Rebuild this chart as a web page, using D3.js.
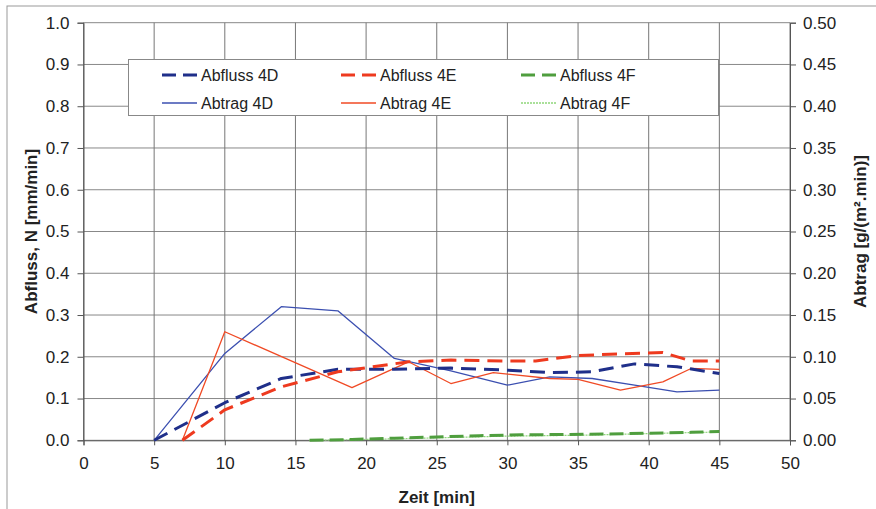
<!DOCTYPE html>
<html><head><meta charset="utf-8">
<script src="https://cdn.jsdelivr.net/npm/d3@7"></script>
<style>body{margin:0;background:#fff}svg{display:block}text{font-family:"Liberation Sans",Arial,sans-serif;fill:#222}</style>
</head><body><svg id="c" width="876" height="509"></svg>
<script>
// ---- data ----
const xTicks = [0,5,10,15,20,25,30,35,40,45,50];
const yLeftTicks = [0,0.1,0.2,0.3,0.4,0.5,0.6,0.7,0.8,0.9,1.0];
const yRightTicks = [0,0.05,0.1,0.15,0.2,0.25,0.3,0.35,0.4,0.45,0.5];

const abfluss4D_t = [5,10,14,18,22,26,30,33,36,39,42,45];
const abfluss4D_v = [0,0.09,0.148,0.17,0.17,0.173,0.168,0.162,0.164,0.183,0.176,0.16];
const abtrag4D_t = [5,10,14,18,22,26,30,33,36,39,42,45];
const abtrag4D_v = [0,0.104,0.16,0.155,0.098,0.083,0.066,0.076,0.074,0.066,0.058,0.06];

const abfluss4E_t = [7,10,14,18,23,26,30,32,35,38,41,43,45];
const abfluss4E_v = [0,0.073,0.128,0.164,0.188,0.192,0.19,0.19,0.203,0.207,0.21,0.19,0.19];
const abtrag4E_t = [7,10,19,23,26,29,33,35,38,41,43,45];
const abtrag4E_v = [0,0.13,0.063,0.094,0.068,0.081,0.074,0.073,0.06,0.07,0.086,0.085];

const abfluss4F_t = [16,19,22,25,28,31,34,37,40,43,45];
const abfluss4F_v = [0,0.002,0.005,0.008,0.011,0.013,0.014,0.015,0.017,0.019,0.021];
const abtrag4F_t = [16,20,25,30,35,40,45];
const abtrag4F_v = [0,0.001,0.003,0.005,0.006,0.008,0.01];

// ---- layout ----
const svg = d3.select("#c");
const L = 83.5, R = 790, T = 22.7, B = 440.3;
const x = d3.scaleLinear().domain([0,50]).range([L,R]);
const yL = d3.scaleLinear().domain([0,1]).range([B,T]);
const yR = d3.scaleLinear().domain([0,0.5]).range([B,T]);

svg.append("rect").attr("width",876).attr("height",509).attr("fill","#fff");
svg.append("rect").attr("x",7).attr("y",6).attr("width",950).attr("height",650)
  .attr("fill","none").attr("stroke","#999").attr("stroke-width",1);

// grid
const g = svg.append("g");
g.selectAll(".hg").data(yLeftTicks).join("line")
  .attr("x1",L).attr("x2",R).attr("y1",d=>yL(d)).attr("y2",d=>yL(d))
  .attr("stroke","#888").attr("stroke-width",1);
g.selectAll(".vg").data(xTicks).join("line")
  .attr("y1",T).attr("y2",B).attr("x1",d=>x(d)).attr("x2",d=>x(d))
  .attr("stroke","#777").attr("stroke-width",1);

// axes
const fmt1 = d3.format(".1f"), fmt2 = d3.format(".2f");
const axL = d3.axisLeft(yL).tickValues(yLeftTicks).tickFormat(fmt1).tickSize(6).tickPadding(8);
const axR = d3.axisRight(yR).tickValues(yRightTicks).tickFormat(fmt2).tickSize(6).tickPadding(7);
const axB = d3.axisBottom(x).tickValues(xTicks).tickFormat(d3.format("d")).tickSize(5).tickPadding(12);
function style(sel){
  sel.select(".domain").attr("stroke","#555");
  sel.selectAll(".tick line").attr("stroke","#555");
  sel.selectAll("text").attr("font-size",17).attr("fill","#222")
    .attr("font-family","'Liberation Sans',Arial,sans-serif");
}
svg.append("g").attr("transform",`translate(${L},0)`).call(axL).call(style);
svg.append("g").attr("transform",`translate(${R},0)`).call(axR).call(style);
svg.append("g").attr("transform",`translate(0,${B})`).call(axB).call(style);

// titles
svg.append("text").attr("x",(L+R)/2).attr("y",503).attr("text-anchor","middle")
  .attr("font-size",17).attr("font-weight","bold").text("Zeit [min]");
svg.append("text").attr("transform",`translate(37,${(T+B)/2}) rotate(-90)`).attr("text-anchor","middle")
  .attr("font-size",17).attr("font-weight","bold").text("Abfluss, N [mm/min]");
svg.append("text").attr("transform",`translate(866,${(T+B)/2}) rotate(-90)`).attr("text-anchor","middle")
  .attr("font-size",17).attr("font-weight","bold").text("Abtrag [g/(m².min)]");

// series
const series = [
  {t:abtrag4F_t, v:abtrag4F_v, y:yR, color:"#8fd67a", w:1.2, dash:"2,1"},
  {t:abfluss4F_t, v:abfluss4F_v, y:yL, color:"#4f9e3e", w:3, dash:"14,6"},
  {t:abtrag4D_t, v:abtrag4D_v, y:yR, color:"#3b4fb0", w:1.3, dash:null},
  {t:abtrag4E_t, v:abtrag4E_v, y:yR, color:"#f04a25", w:1.3, dash:null},
  {t:abfluss4D_t, v:abfluss4D_v, y:yL, color:"#1f2f8a", w:3, dash:"15,8"},
  {t:abfluss4E_t, v:abfluss4E_v, y:yL, color:"#ee3a1f", w:3, dash:"15,8"}
];
series.forEach(s=>{
  const pts = s.t.map((t,i)=>[t,s.v[i]]);
  const line = d3.line().x(d=>x(d[0])).y(d=>s.y(d[1]));
  svg.append("path").attr("d",line(pts)).attr("fill","none")
    .attr("stroke",s.color).attr("stroke-width",s.w)
    .attr("stroke-dasharray",s.dash).attr("stroke-linejoin","round");
});

// legend
const legendItems = [
  {label:"Abfluss 4D", color:"#1f2f8a", w:3, dash:"14,7", col:0,row:0},
  {label:"Abfluss 4E", color:"#ee3a1f", w:3, dash:"14,7", col:1,row:0},
  {label:"Abfluss 4F", color:"#4f9e3e", w:3, dash:"14,7", col:2,row:0},
  {label:"Abtrag 4D", color:"#3b4fb0", w:1.3, dash:null, col:0,row:1},
  {label:"Abtrag 4E", color:"#f04a25", w:1.3, dash:null, col:1,row:1},
  {label:"Abtrag 4F", color:"#8fd67a", w:1.3, dash:"2,1", col:2,row:1}
];
const lg = svg.append("g");
lg.append("rect").attr("x",128.5).attr("y",59.5).attr("width",590).attr("height",56)
  .attr("fill","#fff").attr("stroke","#888");
const colX = [162,341,521], rowY = [75,103];
legendItems.forEach(it=>{
  const x0 = colX[it.col], y0 = rowY[it.row];
  lg.append("line").attr("x1",x0).attr("x2",x0+35).attr("y1",y0).attr("y2",y0)
    .attr("stroke",it.color).attr("stroke-width",it.w).attr("stroke-dasharray",it.dash);
  lg.append("text").attr("x",x0+39).attr("y",y0+6).attr("font-size",16).text(it.label);
});
</script></body></html>
